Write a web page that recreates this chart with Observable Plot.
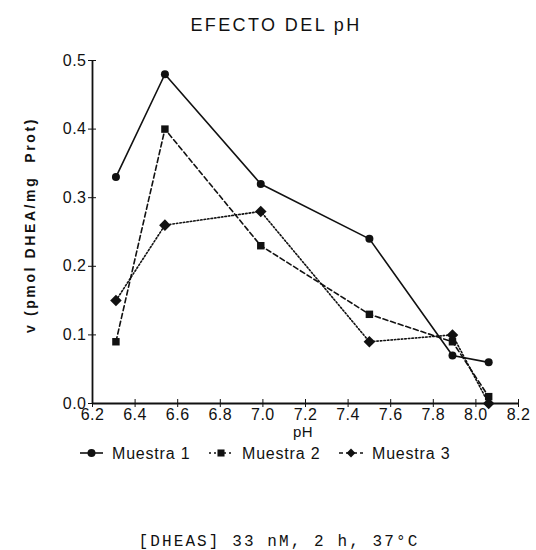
<!DOCTYPE html>
<html><head><meta charset="utf-8">
<script src="https://cdn.jsdelivr.net/npm/d3@7"></script>
<script src="https://cdn.jsdelivr.net/npm/@observablehq/plot@0.6"></script>
<style>body{margin:0;background:#fff}#c{position:relative;width:536px;height:550px}</style>
</head><body><div id="c"></div>
<script>
const pH = [6.31, 6.54, 6.99, 7.5, 7.89, 8.06];
const muestra1 = [0.33, 0.48, 0.32, 0.24, 0.07, 0.06];
const muestra2 = [0.09, 0.40, 0.23, 0.13, 0.09, 0.01];
const muestra3 = [0.15, 0.26, 0.28, 0.09, 0.10, 0.00];
const seriesNames = ["Muestra 1", "Muestra 2", "Muestra 3"];
const xTicks = [6.2, 6.4, 6.6, 6.8, 7.0, 7.2, 7.4, 7.6, 7.8, 8.0, 8.2];
const yTicks = [0.0, 0.1, 0.2, 0.3, 0.4, 0.5];

const rows = [];
[muestra1, muestra2, muestra3].forEach((vals, i) => vals.forEach((v, j) => rows.push({serie: seriesNames[i], pH: pH[j], v})));
const dash = {"Muestra 1": null, "Muestra 2": "5,3", "Muestra 3": "1.5,2"};
const sym = {"Muestra 1": "circle", "Muestra 2": "square", "Muestra 3": "diamond2"};
const rad = {"Muestra 1": 4, "Muestra 2": 4.2, "Muestra 3": 5.2};
const font = "Liberation Sans, Arial, sans-serif";
const ink = "#111";

const marks = [
  Plot.ruleX([6.2], {stroke: ink, strokeWidth: 1.8}),
  Plot.ruleY([0], {stroke: ink, strokeWidth: 1.8}),
  Plot.axisX({ticks: xTicks, tickFormat: d3.format(".1f"), tickSize: 4, tickPadding: 1, fontSize: 16, label: null, stroke: ink, color: ink}),
  Plot.axisX({ticks: xTicks, tickSize: -4, text: null, label: null, stroke: ink}),
  Plot.axisY({ticks: yTicks, tickFormat: d3.format(".1f"), tickSize: 4, tickPadding: 2, fontSize: 16, label: null, stroke: ink, color: ink}),
  Plot.axisY({ticks: yTicks, tickSize: -4, text: null, label: null, stroke: ink}),
];
for (const s of seriesNames) {
  const d = rows.filter(r => r.serie === s);
  marks.push(Plot.line(d, {x: "pH", y: "v", stroke: ink, strokeWidth: 1.6, strokeDasharray: dash[s]}));
  marks.push(Plot.dot(d, {x: "pH", y: "v", symbol: () => sym[s], fill: ink, r: rad[s], stroke: "none"}));
}

const chart = Plot.plot({
  width: 536, height: 550,
  marginLeft: 92, marginRight: 18, marginTop: 60, marginBottom: 147,
  style: {fontFamily: font, fontSize: "16px", color: ink, background: "#fff", letterSpacing: "0.5px"},
  x: {domain: [6.2, 8.2]},
  y: {domain: [0, 0.5]},
  symbol: {type: "identity"},
  marks
});
document.getElementById("c").appendChild(chart);

const svg = d3.select(chart);
const txt = svg.append("g").attr("font-family", font).attr("fill", ink);
txt.append("text").attr("x", 276).attr("y", 31).attr("text-anchor", "middle")
  .attr("font-size", 18).attr("letter-spacing", 2.4).text("EFECTO DEL pH");
txt.append("text").attr("x", 303).attr("y", 437).attr("text-anchor", "middle")
  .attr("font-size", 15).text("pH");
txt.append("text").attr("transform", "translate(31,225) rotate(-90)").attr("text-anchor", "middle")
  .attr("dominant-baseline", "middle").attr("font-size", 14).attr("font-weight", "bold").attr("letter-spacing", 2.6)
  .text("v (pmol DHEA/mg  Prot)");

// legend
const items = [
  {name: "Muestra 1", x0: 80, x1: 103, tx: 112, d: null},
  {name: "Muestra 2", x0: 209, x1: 233, tx: 242, d: "2,3"},
  {name: "Muestra 3", x0: 339, x1: 363, tx: 372, d: "4,3"}
];
const y0 = 453;
items.forEach(it => {
  txt.append("line").attr("x1", it.x0).attr("x2", it.x1).attr("y1", y0).attr("y2", y0)
    .attr("stroke", ink).attr("stroke-width", 1.6).attr("stroke-dasharray", it.d);
  const cx = (it.x0 + it.x1) / 2;
  const st = sym[it.name] === "circle" ? d3.symbolCircle : sym[it.name] === "square" ? d3.symbolSquare : d3.symbolDiamond2;
  txt.append("path").attr("d", d3.symbol(st, 50)()).attr("transform", `translate(${cx},${y0})`).attr("fill", ink);
  txt.append("text").attr("x", it.tx).attr("y", y0 + 6).attr("text-anchor", "start")
    .attr("font-size", 16).attr("letter-spacing", 0.8).text(it.name);
});
svg.append("text").attr("x", 279).attr("y", 546).attr("text-anchor", "middle")
  .attr("font-family", "Liberation Mono, monospace").attr("font-size", 16).attr("letter-spacing", 2.1).attr("fill", ink)
  .text("[DHEAS] 33 nM, 2 h, 37°C");
</script></body></html>
